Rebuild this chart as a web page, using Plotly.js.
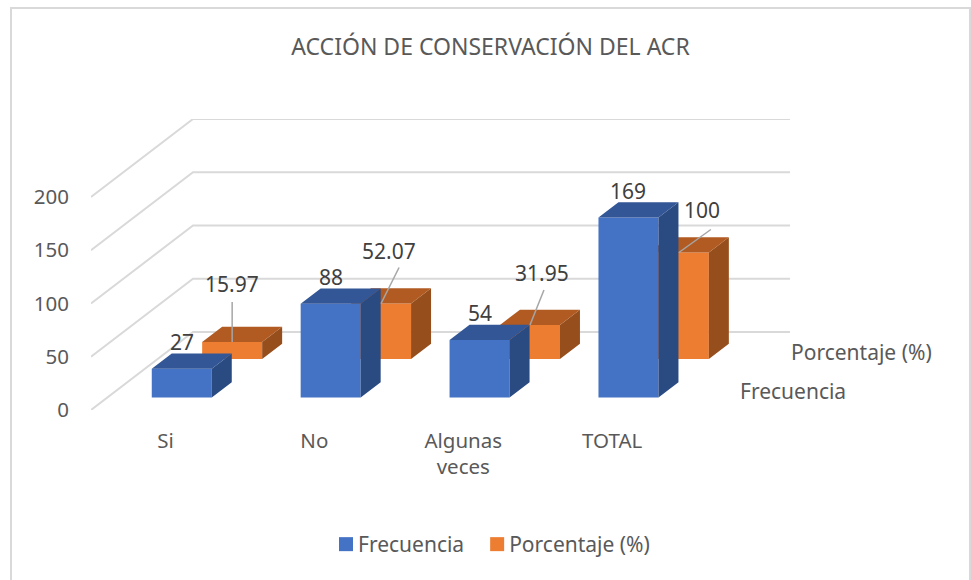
<!DOCTYPE html>
<html>
<head>
<meta charset="utf-8">
<script src="https://cdn.plot.ly/plotly-3.0.1.min.js"></script>
<style>html,body{margin:0;padding:0;background:#fff}#chart{width:971px;height:580px}</style>
</head>
<body>
<div id="chart"></div>
<script>
// ---- data ----
var categories = ['Si', 'No', 'Algunas<br>veces', 'TOTAL'];
var frecuencia = [27, 88, 54, 169];
var porcentaje = [15.97, 52.07, 31.95, 100];
var frecuenciaLabels = ['27', '88', '54', '169'];
var porcentajeLabels = ['15.97', '52.07', '31.95', '100'];
var yTicks = [0, 50, 100, 150, 200];
var titleText = 'ACCIÓN DE CONSERVACIÓN DEL ACR';
var nameFrecuencia = 'Frecuencia';
var namePorcentaje = 'Porcentaje (%)';

// ---- layout geometry (page pixels of the plot box) ----
var W = 971, H = 580, L = 91, R = 790, T = 119, B = 410;
var catPx = 148.9, valPx = 1.065;
var depthDX = 102, depthDY = 78;         // px of the full floor depth
var kx = depthDX / catPx, ky = depthDY / valPx;
var xMin = -0.5, xMax = xMin + (R - L) / catPx;
var yMax = (B - T) / valPx;
var barW = 60 / catPx, thick = 0.196;
var dBlue = 0.16, dOrange = 0.654;
var fontFam = '"Noto Sans", "Open Sans", sans-serif';

function faces(vals, d) {
  var sx = [], sy = [], tx = [], ty = [];
  vals.forEach(function (v, i) {
    var c = i + d * kx, b = d * ky, l = c - barW / 2, r = c + barW / 2;
    var ox = thick * kx, oy = thick * ky, top = b + v;
    sx.push(r, r, r + ox, r + ox, r, null);
    sy.push(b, top, top + oy, b + oy, b, null);
    tx.push(l, r, r + ox, l + ox, l, null);
    ty.push(top, top, top + oy, top + oy, top, null);
  });
  return { sx: sx, sy: sy, tx: tx, ty: ty };
}
function poly(x, y, color, z) {
  return { type: 'scatter', mode: 'lines', x: x, y: y, fill: 'toself', fillcolor: color,
    line: { width: 0, color: color }, hoverinfo: 'skip', showlegend: false, zorder: z };
}
function bars(vals, d, name, color, z) {
  return { type: 'bar', name: name, x: vals.map(function (v, i) { return i + d * kx; }), y: vals,
    base: vals.map(function () { return d * ky; }), width: barW,
    marker: { color: color, line: { width: 0 } }, zorder: z };
}

var traces = [];
// walls: each gridline runs along the side wall, then along the back wall
yTicks.forEach(function (v) {
  traces.push({ type: 'scatter', mode: 'lines', x: [xMin, xMin + kx, xMax], y: [v, v + ky, v + ky],
    line: { color: '#d9d9d9', width: 2 }, hoverinfo: 'skip', showlegend: false, zorder: 0 });
});
traces.push(bars(frecuencia, dBlue, nameFrecuencia, '#4472c4', 5));
traces.push(bars(porcentaje, dOrange, namePorcentaje, '#ed7d31', 2));
var fo = faces(porcentaje, dOrange), fb = faces(frecuencia, dBlue);
traces.push(poly(fo.sx, fo.sy, '#964f1c', 3));
traces.push(poly(fo.tx, fo.ty, '#b15b22', 3));
traces.push(poly(fb.sx, fb.sy, '#2a4a82', 6));
traces.push(poly(fb.tx, fb.ty, '#325696', 6));

// leader lines and labels of the orange series
var leaderEnd = [[0, -40], [18, -36], [14, -35], [32, -23]];   // px from the bar's top edge
var labelOff = [[0, -58], [8, -53], [12, -52], [23, -42]];     // px from the bar's top edge
var lx = [], ly = [];
porcentaje.forEach(function (v, i) {
  var cx = i + dOrange * kx, cy = v + dOrange * ky;
  lx.push(cx, cx + leaderEnd[i][0] / catPx, null);
  ly.push(cy, cy - leaderEnd[i][1] / valPx, null);
});
traces.push({ type: 'scatter', mode: 'lines', x: lx, y: ly, line: { color: '#a6a6a6', width: 1.5 },
  hoverinfo: 'skip', showlegend: false, zorder: 7 });

var annotations = [];
function label(txt, x, y, dx, dy) {
  annotations.push({ text: txt, x: x, y: y, xref: 'x', yref: 'y', xshift: dx, yshift: -dy, showarrow: false,
    xanchor: 'center', yanchor: 'middle', font: { family: fontFam, size: 21, color: '#404040' } });
}
frecuencia.forEach(function (v, i) {
  label(frecuenciaLabels[i], i + dBlue * kx, v + dBlue * ky, 0, -27);
});
porcentaje.forEach(function (v, i) {
  label(porcentajeLabels[i], i + dOrange * kx, v + dOrange * ky, labelOff[i][0], labelOff[i][1]);
});
// depth-axis series names
function seriesName(txt, d, dxPx, dyPx) {
  annotations.push({ text: txt, x: 3.5 + d * kx, y: d * ky, xref: 'x', yref: 'y', xshift: dxPx, yshift: -dyPx,
    showarrow: false, xanchor: 'left', yanchor: 'middle', font: { family: fontFam, size: 21, color: '#595959' } });
}
seriesName(nameFrecuencia, 0.25, 26, 0);
seriesName(namePorcentaje, 0.75, 26, 0);

var layout = {
  width: W, height: H, paper_bgcolor: '#fff', plot_bgcolor: 'rgba(0,0,0,0)',
  margin: { l: L, r: W - R, t: T, b: H - B, pad: 0 },
  font: { family: fontFam, color: '#595959', size: 20 },
  title: { text: titleText, x: 490.5 / W, xref: 'container', xanchor: 'center', y: 1 - 47 / H, yref: 'container', yanchor: 'middle',
    font: { family: fontFam, size: 23, color: '#595959' } },
  barmode: 'overlay',
  xaxis: { type: 'linear', range: [xMin, xMax], tickmode: 'array', tickvals: categories.map(function (c, i) { return i; }),
    ticktext: categories, showgrid: false, zeroline: false, showline: false, ticks: '', ticklabelstandoff: 16,
    tickangle: 0, tickfont: { family: fontFam, size: 20.5, color: '#595959' } },
  yaxis: { range: [0, yMax], tickmode: 'array', tickvals: yTicks, ticktext: yTicks.map(String), showgrid: false, zeroline: false,
    showline: false, ticks: '', ticklabelstandoff: 21, tickfont: { family: fontFam, size: 20.5, color: '#595959' } },
  legend: { orientation: 'h', x: (318 - L) / (R - L), xanchor: 'left', y: (B - 544.5) / (B - T), yanchor: 'middle',
    font: { family: fontFam, size: 21, color: '#595959' }, bgcolor: 'rgba(0,0,0,0)', traceorder: 'normal' },
  annotations: annotations,
  shapes: [{ type: 'rect', xref: 'paper', yref: 'paper', layer: 'below',
    x0: (11 - L) / (R - L), x1: (970 - L) / (R - L), y0: (B - 600) / (B - T), y1: (B - 8) / (B - T),
    line: { color: '#d9d9d9', width: 2 }, fillcolor: 'rgba(0,0,0,0)' }],
  showlegend: true, hovermode: false
};
Plotly.newPlot('chart', traces, layout, { displayModeBar: false, staticPlot: true }).then(function () {
  // tighten the legend: larger swatch, closer to its text
  document.querySelectorAll('#chart .legend .traces .legendsymbols').forEach(function (g) {
    g.setAttribute('transform', 'translate(8,0)');
  });
  document.querySelectorAll('#chart .legend .traces .legendpoints path').forEach(function (p) {
    p.setAttribute('d', 'M7,7H-7V-7H7Z');
  });
});
</script>
</body>
</html>
